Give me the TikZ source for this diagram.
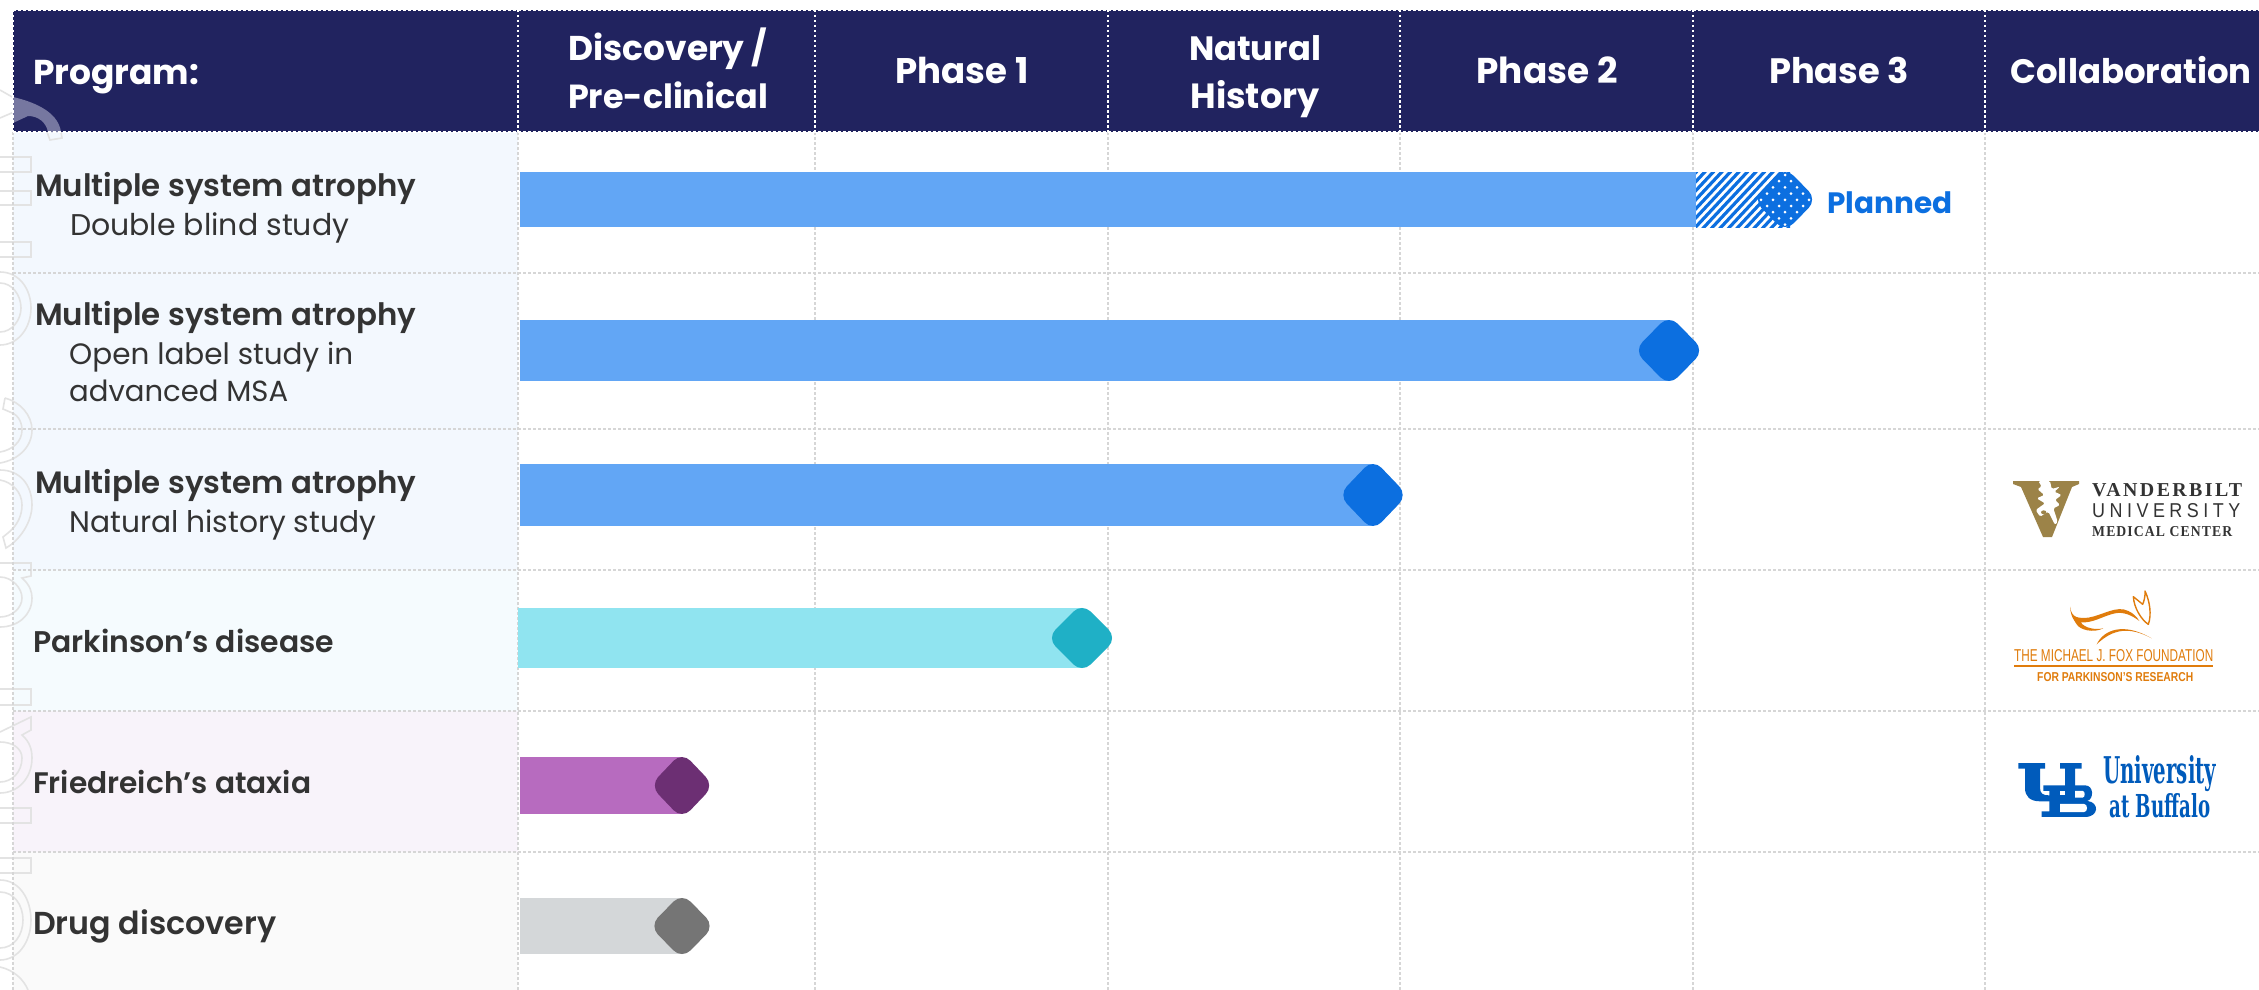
\documentclass[tikz,border=0pt]{standalone}
\usepackage{fontspec}
\usepackage{graphicx}
\setmainfont{Poppins}
\newfontfamily\hfont{Poppins}[BoldFont=*,UprightFont=* Bold]
\newfontfamily\mfont{Poppins SemiBold}
\newfontfamily\rfont{Poppins}
\newfontfamily\lserif{Liberation Serif}
\newfontfamily\dserif{DejaVu Serif}
\newfontfamily\lsans{Liberation Sans}
\definecolor{navy}{HTML}{21235F}
\definecolor{gridc}{HTML}{D6D6D6}
\definecolor{txt}{HTML}{333333}
\definecolor{barblue}{HTML}{62A6F5}
\definecolor{gemblue}{HTML}{0C6FE0}
\definecolor{bartl}{HTML}{90E4F0}
\definecolor{gemtl}{HTML}{1FB0C6}
\definecolor{barpp}{HTML}{B76BBF}
\definecolor{gempp}{HTML}{6C2F73}
\definecolor{bargy}{HTML}{D4D7D9}
\definecolor{gemgy}{HTML}{757575}
\definecolor{wmark}{HTML}{E3E3E3}
\definecolor{vgold}{HTML}{9C8348}
\definecolor{foxo}{HTML}{E07C0C}
\definecolor{ubb}{HTML}{005BBB}
\newcommand\fitw[2]{\resizebox{#1pt}{!}{#2}}
\newcommand\fitwh[3]{\resizebox{#1pt}{#2pt}{#3}}
\newcommand\gem[5]{\begin{scope}[shift={(#1,#2)}]\fill[#5,rounded corners=12pt] (-#3/2,-#4/2)--(0,-#4)--(#3,0)--(0,#4)--(-#3,0)--cycle;\end{scope}}
\tikzset{
  hdrtxt/.style={text=white,inner sep=0pt,anchor=base,font=\hfont\fontsize{34}{34}\selectfont},
  nametxt/.style={text=txt,inner sep=0pt,anchor=base west,font=\mfont\fontsize{32}{32}\selectfont},
  subtxt/.style={text=txt,inner sep=0pt,anchor=base west,font=\rfont\fontsize{28}{28}\selectfont},
  logotxt/.style={inner sep=0pt,anchor=base west},
  gridline/.style={draw=gridc,line width=2.8pt,dash pattern=on 2.5pt off 2.5pt},
  hdrline/.style={draw=white,line width=2.4pt,dash pattern=on 2.5pt off 2.5pt},
  wm/.style={draw=wmark,line width=1.6pt},
}
\begin{document}
\begin{tikzpicture}[x=1pt,y=-1pt]
\useasboundingbox (0,0) rectangle (2259,990);
\begin{scope}
\clip (0,0) rectangle (2259,990);
\fill[white] (0,0) rectangle (2259,990);
% left panels
\fill[color={rgb,255:red,243;green,248;blue,254}] (13,132) rectangle (518,570);
\fill[color={rgb,255:red,245;green,251;blue,254}] (13,570) rectangle (518,711);
\fill[color={rgb,255:red,248;green,243;blue,250}] (13,711) rectangle (518,852);
\fill[color={rgb,255:red,250;green,250;blue,250}] (13,852) rectangle (518,990);
% watermark
\draw[wm] (0,90)--(14,98) (0,118)--(14,112);
\draw[wm] (47,132)--(50,140)--(62,138)--(61,132);
\foreach \a/\b in {157/172,191/205,242/257,689/705,808/823,858/873}{\draw[wm] (0,\a)--(31,\a)--(31,\b)--(0,\b);}
\draw[wm] (0,272) .. controls (20,272) and (31,290) .. (31,308) .. controls (31,328) and (18,345) .. (0,345);
\draw[wm] (0,283) .. controls (12,283) and (21,295) .. (21,308) .. controls (21,320) and (12,332) .. (0,332);
\draw[wm] (5,398)--(3,409)--(10,412) .. controls (20,415) and (22,425) .. (22,430) .. controls (22,442) and (12,450) .. (0,452) (5,398) .. controls (20,402) and (32,415) .. (32,430) .. controls (32,447) and (18,460) .. (0,463);
\draw[wm] (0,470) .. controls (20,470) and (32,485) .. (32,505) .. controls (32,522) and (20,540) .. (6,548)--(3,537)--(8,533) .. controls (18,525) and (22,515) .. (22,505) .. controls (22,492) and (12,482) .. (0,480);
\draw[wm] (0,563)--(31,563)--(31,576)--(22,578) .. controls (30,585) and (32,592) .. (32,598) .. controls (32,615) and (18,627) .. (0,627);
\draw[wm] (0,577) .. controls (12,577) and (22,588) .. (22,598) .. controls (22,608) and (12,617) .. (0,617);
\draw[wm] (0,732)--(31,717)--(31,730)--(22,735) .. controls (30,742) and (32,750) .. (32,758) .. controls (32,778) and (18,793) .. (0,793);
\draw[wm] (0,742) .. controls (12,742) and (22,748) .. (22,758) .. controls (22,772) and (12,782) .. (0,782);
\draw[wm] (0,880) .. controls (20,880) and (31,900) .. (31,920) .. controls (31,942) and (18,960) .. (0,960);
\draw[wm] (0,892) .. controls (14,892) and (23,905) .. (23,920) .. controls (23,935) and (14,948) .. (0,948);
\draw[wm] (0,967) .. controls (14,970) and (24,980) .. (28,990);
% grid
\foreach \x in {13,518,815,1108,1400,1693,1985}{\draw[gridline] (\x,132)--(\x,990);}
\foreach \y in {273,429,570,711,852}{\draw[gridline] (13,\y)--(2259,\y);}
% header
\fill[navy] (13,10) rectangle (2259,132);
\fill[color={rgb,255:red,118;green,119;blue,160}] (13,97) .. controls (30,101) and (58,110) .. (61,132)--(48,132) .. controls (46,122) and (38,116) .. (28,116)--(13,123)--cycle;
\draw[hdrline] (13,10)--(2259,10);
\draw[hdrline] (13,132)--(2259,132);
\foreach \x in {13,518,815,1108,1400,1693,1985}{\draw[hdrline] (\x,10)--(\x,132);}
% bars
\fill[barblue] (520,172) rectangle (1696,227);
\fill[barblue] (520,320) rectangle (1669,381);
\fill[barblue] (520,464) rectangle (1373,526);
\fill[bartl] (518,608) rectangle (1082,668);
\fill[barpp] (520,757) rectangle (682,814);
\fill[bargy] (520,898) rectangle (682,954);
% hatched part
\begin{scope}
\clip (1696,172) rectangle (1790,227);
\foreach \i in {0,...,20}{\draw[gemblue,line width=3.2pt] ({1640+8.5*\i},232)--({1700+8.5*\i},168);}
\end{scope}
% planned gem
\begin{scope}
\clip[shift={(1785,199.5)},rounded corners=12pt] (-16,-16)--(0,-32.5)--(32,0)--(0,32.5)--(-32,0)--cycle;
\fill[gemblue] (1750,165) rectangle (1820,235);
\foreach \i in {0,...,5}{\foreach \j in {0,...,4}{
  \fill[white] ({1761+12*\i},{175+12.4*\j}) circle (1.5);
  \fill[white] ({1767+12*\i},{181.2+12.4*\j}) circle (1.5);
}}
\end{scope}
% gems
\gem{1669}{350.5}{35}{35.5}{gemblue}
\gem{1373}{495}{34.5}{36}{gemblue}
\gem{1082}{638}{35}{35}{gemtl}
\gem{682}{785.5}{32}{33.5}{gempp}
\gem{682}{926}{32.5}{33}{gemgy}
\end{scope}
% header text
\node[hdrtxt,anchor=base west] (hprog) at (33,84) {\fitw{166}{Program:}};
\node[hdrtxt] (hdisc) at (668,60) {\fitw{199}{Discovery /}};
\node[hdrtxt] (hpre) at (668,108) {\fitw{200}{Pre-clinical}};
\node[hdrtxt] (hph1) at (962,84) {\fitw{133}{Phase 1}};
\node[hdrtxt] (hnat) at (1255,60) {\fitw{132}{Natural}};
\node[hdrtxt] (hhis) at (1255,108) {\fitw{129}{History}};
\node[hdrtxt] (hph2) at (1547,84) {\fitw{141}{Phase 2}};
\node[hdrtxt] (hph3) at (1839,84) {\fitw{140}{Phase 3}};
\node[hdrtxt] (hcol) at (2131,84) {\fitw{241}{Collaboration}};
% row text
\node[nametxt] (n1) at (35,196) {\fitw{381}{Multiple system atrophy}};
\node[subtxt] (s1) at (70,235) {\fitw{279}{Double blind study}};
\node[nametxt] (n2) at (35,325) {\fitw{381}{Multiple system atrophy}};
\node[subtxt] (s2a) at (69,364) {\fitw{284}{Open label study in}};
\node[subtxt] (s2b) at (69,401) {\fitw{219}{advanced MSA}};
\node[nametxt] (n3) at (35,493) {\fitw{381}{Multiple system atrophy}};
\node[subtxt] (s3) at (69,532) {\fitw{307}{Natural history study}};
\node[nametxt] (n4) at (33,652) {\fitw{301}{Parkinson’s disease}};
\node[nametxt] (n5) at (33,793) {\fitw{278}{Friedreich’s ataxia}};
\node[nametxt] (n6) at (33,934) {\fitw{243}{Drug discovery}};
\node[hdrtxt,anchor=base west,text=gemblue] (planned) at (1827,213) {\fitw{125}{Planned}};
% Vanderbilt logo
\fill[vgold] (2013,481)--(2079,481)--(2079,484)--(2072,487)--(2052,537)--(2043,537)--(2021,487)--(2013,484)--cycle;
\begin{scope}[shift={(2005,475)},x=0.3333pt,y=-0.3333pt]
\fill[white,rounded corners=1.5pt] (100,18)--(110,35)--(97,42)--(118,60)--(95,70)--(120,85)--(92,105)--(105,125)--(130,110)--(150,150)--(158,140)--(145,100)--(165,90)--(150,75)--(170,60)--(148,50)--(165,35)--(140,42)--(135,18)--cycle;
\fill[vgold] (116,112) ellipse (8 and 6);
\end{scope}
\node[logotxt,text=txt] (v1) at (2092,496) {\fitwh{150}{13}{\lserif\bfseries\addfontfeature{LetterSpace=12}VANDERBILT}};
\node[logotxt,text=txt] (v2) at (2092,517) {\fitwh{148}{14}{\lsans\addfontfeature{LetterSpace=25}UNIVERSITY}};
\node[logotxt,text=txt] (v3) at (2092,536) {\fitwh{140}{10}{\lserif\bfseries\addfontfeature{LetterSpace=8}MEDICAL CENTER}};
% Fox logo
\begin{scope}[shift={(2060,585)},x=0.3333pt,y=-0.3333pt]
\fill[foxo] (30,65) .. controls (35,100) and (55,100) .. (85,98) .. controls (130,90) and (170,60) .. (205,78) .. controls (220,85) and (230,95) .. (238,108) .. controls (215,90) and (190,80) .. (165,85) .. controls (130,92) and (100,115) .. (62,112) .. controls (75,130) and (105,135) .. (130,130) .. controls (100,145) and (60,135) .. (50,118) .. controls (42,105) and (32,95) .. (30,65) -- cycle;
\fill[foxo] (110,178) .. controls (130,135) and (190,110) .. (275,160) .. controls (210,125) and (160,130) .. (110,178) -- cycle;
\draw[foxo,line width=1.4pt,line join=round] (220,35) .. controls (222,70) and (245,105) .. (265,118) .. controls (275,90) and (270,50) .. (255,18) .. controls (256,35) and (252,48) .. (248,58) -- cycle;
\end{scope}
\node[logotxt,text=foxo] (f1) at (2014,661) {\fitwh{199}{12}{\lsans THE MICHAEL J. FOX FOUNDATION}};
\coordinate (fl1) at (2014,666);
\coordinate (fl2) at (2213,666);
\draw[foxo,line width=1.2pt] (fl1)--(fl2);
\node[logotxt,text=foxo] (f2) at (2037,681) {\fitwh{156}{9}{\lsans\bfseries FOR PARKINSON’S RESEARCH}};
% UB logo
\begin{scope}[shift={(2010,753.7)},x=0.3333pt,y=-0.372pt]
\fill[ubb] (25,25)--(105,25)--(105,40)--(90,40)--(90,92) .. controls (90,108) and (100,112) .. (118,112)--(165,112)--(165,40)--(150,40)--(150,25)--(215,25)--(215,40)--(195,40)--(195,128)--(90,128) .. controls (60,128) and (45,115) .. (45,92)--(45,40)--(25,40)--cycle;
\fill[ubb] (100,85)--(225,85) .. controls (252,85) and (252,122) .. (232,127) .. controls (268,130) and (268,170) .. (225,170)--(95,170)--(95,155)--(118,155)--(118,100)--(100,100)--cycle;
\fill[white] (150,100)--(165,100)--(165,112)--(150,112)--cycle;
\fill[ubb] (165,85) rectangle (195,128);
\fill[white] (195,100)--(218,100) .. controls (226,100) and (226,118) .. (218,118)--(195,118)--cycle;
\fill[white] (150,135)--(222,135) .. controls (234,135) and (234,157) .. (222,157)--(150,157)--cycle;
\end{scope}
\node[logotxt,text=ubb] (u1) at (2103,783) {\fitwh{113}{28}{\dserif\bfseries University}};
\node[logotxt,text=ubb] (u2) at (2109,817) {\fitwh{101}{24}{\dserif\bfseries at Buffalo}};
\end{tikzpicture}
\end{document}
